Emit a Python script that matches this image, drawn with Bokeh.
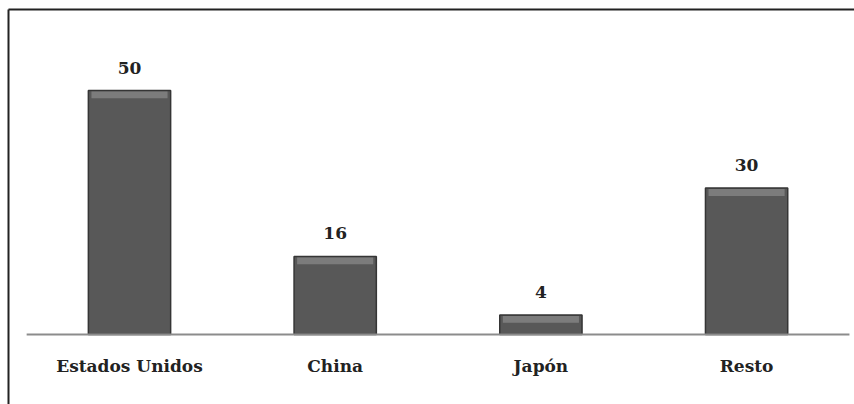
from bokeh.plotting import figure
from bokeh.models import Range1d, ColumnDataSource
from bokeh.core.properties import value
from bokeh.embed import file_html
from bokeh.resources import INLINE

categories = ["Estados Unidos", "China", "Japón", "Resto"]
values = [50, 16, 4, 30]
value_labels = ["50", "16", "4", "30"]

W, H = 854, 404
x_pos = list(range(len(categories)))
px_per_x = 205.7
px_per_y = 4.88
base_px = 334
x_start = -129 / px_per_x
x_end = x_start + W / px_per_x
y_end = base_px / px_per_y
y_start = -(H - base_px) / px_per_y

p = figure(width=W, height=H, output_backend="svg", toolbar_location=None,
           x_range=Range1d(x_start, x_end), y_range=Range1d(y_start, y_end),
           min_border=0)
p.axis.visible = False
p.grid.visible = False
p.outline_line_color = None
p.background_fill_color = "white"
p.border_fill_color = "white"

bevel = 1.6  # bevel depth in value units
src = ColumnDataSource(dict(
    x=x_pos, top=values, cat=categories, lab=value_labels,
    hl_top=[v - 0.2 for v in values],
    hl_bot=[v - min(bevel, v * 0.5) for v in values],
))

# bars
p.vbar(x="x", top="top", bottom=0, width=0.4, source=src,
       fill_color="#585858", line_color="#353535", line_width=1.5)
# bevel highlight near the top of each bar
p.vbar(x="x", top="hl_top", bottom="hl_bot", width=0.37, source=src,
       fill_color="#7c7c7c", line_color=None)

# baseline
p.segment(x0=[-0.5], x1=[len(categories) - 0.5], y0=[0], y1=[0],
          line_color="#8c8c8c", line_width=2)

# value labels
p.text(x="x", y="top", text="lab", source=src, y_offset=-23,
       text_align="center", text_baseline="middle",
       text_font=value("DejaVu Serif"), text_font_style="bold",
       text_font_size="17px", text_color="#222222")
# category labels
p.text(x="x", y=0, text="cat", source=src, y_offset=31,
       text_align="center", text_baseline="middle",
       text_font=value("DejaVu Serif"), text_font_style="bold",
       text_font_size="17px", text_color="#222222")

# partial frame: top and left edges of the enclosing box
bx = x_start + 8 / px_per_x
by = y_end - 9 / px_per_y
p.segment(x0=[bx, bx], y0=[by, by], x1=[x_end, bx], y1=[by, y_start],
          line_color="#222222", line_width=2)

open("out.html", "w").write(file_html(p, INLINE))
